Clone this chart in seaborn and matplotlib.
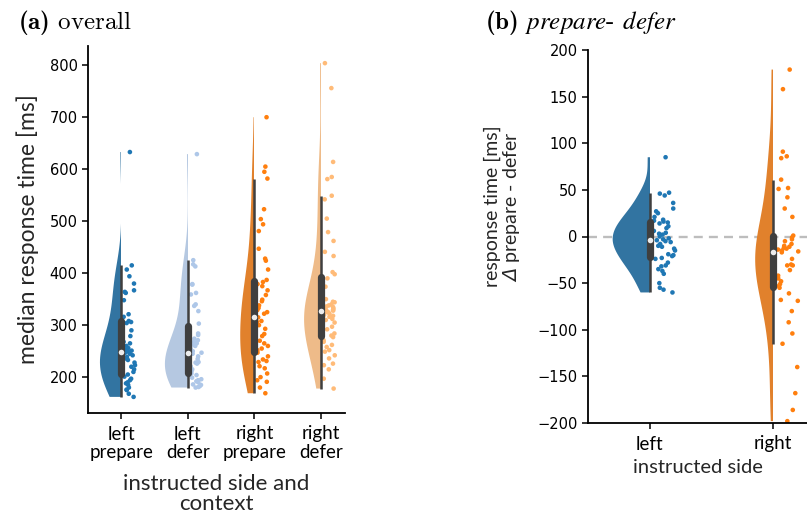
import numpy as np
import pandas as pd
import matplotlib
matplotlib.use("Agg")
import matplotlib.pyplot as plt
from matplotlib import cbook
from matplotlib.patches import Rectangle
import seaborn as sns

# ---- panel (a): median response time per instructed side and context ----
conditions = ["left\nprepare", "left\ndefer", "right\nprepare", "right\ndefer"]
left_prepare = [633, 415, 407, 394, 380, 367, 364, 362, 348, 321, 316, 308, 306, 304,
                290, 279, 268, 265, 260, 256, 253, 251, 249, 247, 245, 242, 239, 236,
                233, 228, 223, 220, 215, 210, 205, 201, 197, 194, 190, 188, 185, 180,
                176, 175, 168, 162]
left_defer = [629, 425, 417, 413, 379, 378, 362, 359, 340, 337, 327, 303, 284, 281,
              274, 271, 268, 265, 262, 260, 255, 250, 247, 245, 240, 235, 229, 228,
              226, 221, 218, 215, 213, 210, 207, 204, 199, 196, 194, 192, 190, 186,
              185, 183, 181, 180]
right_prepare = [700, 605, 595, 582, 523, 504, 494, 481, 447, 428, 424, 407, 387, 383,
                 379, 375, 367, 358, 349, 346, 338, 333, 329, 325, 322, 315, 308, 306,
                 300, 293, 283, 279, 270, 265, 260, 255, 252, 250, 247, 240, 234, 231,
                 229, 221, 217, 207, 200, 194, 191, 180, 169]
right_defer = [804, 756, 614, 585, 581, 549, 542, 505, 479, 462, 441, 433, 402, 398,
               390, 374, 350, 345, 344, 340, 338, 336, 335, 332, 331, 330, 329, 328,
               327, 326, 325, 322, 320, 318, 316, 312, 310, 305, 297, 292, 284, 280,
               277, 271, 268, 262, 258, 252, 249, 242, 236, 226, 223, 215, 197, 178]
colors_a = ["#1f77b4", "#aec7e8", "#ff7f0e", "#ffbb78"]

# ---- panel (b): prepare - defer difference per instructed side ----
sides = ["left", "right"]
diff_left = [85, 47, 46, 44, 36, 30, 27, 25, 21, 18, 17, 16, 15, 14, 11, 9, 6, 4, 3, 2,
             0, -2, -3, -4, -5, -6, -8, -10, -11, -13, -15, -19, -20, -21, -23, -24,
             -28, -31, -32, -35, -37, -40, -50, -55, -57, -60]
diff_right = [179, 158, 91, 86, 84, 61, 52, 51, 42, 30, 21,
              1, -1, -3, -5, -8, -10, -11, -12, -13, -14, -15, -16, -17, -24, -30, -31,
              -31, -36, -42, -45, -48, -51,
              -53, -55, -61, -68, -69, -80, -92, -104, -115, -140, -168, -186, -198]
colors_b = ["#1f77b4", "#ff7f0e"]

sns.set_theme(style="ticks")
plt.rcParams["font.family"] = ["DejaVu Sans"]
plt.rcParams.update({
    "mathtext.fontset": "custom",
    "mathtext.rm": "cmr10",
    "mathtext.bf": "cmb10",
    "mathtext.it": "STIXGeneral:italic",
    "mathtext.sf": "DejaVu Sans:italic",
    "axes.linewidth": 1.3,
    "axes.edgecolor": "black",
    "xtick.major.size": 4,
    "ytick.major.size": 4,
    "xtick.major.width": 1.1,
    "ytick.major.width": 1.1,
})

LABEL_FONT = "Lato"
BOX_GRAY = "#3f3f3f"

fig = plt.figure(figsize=(8.07, 5.22), dpi=100)
ax_a = fig.add_axes([88 / 807, 1 - 413 / 522, 257 / 807, 367 / 522])
ax_b = fig.add_axes([588 / 807, 1 - 423 / 522, 219 / 807, 373 / 522])


def raincloud(ax, labels, groups, colors, width):
    df = pd.DataFrame({
        "group": np.repeat(labels, [len(g) for g in groups]),
        "value": np.concatenate([np.asarray(g, float) for g in groups]),
    })
    # violins (the "cloud"), kept only on the left side of each category
    n0 = len(ax.collections)
    sns.violinplot(data=df, x="group", y="value", order=labels, hue="group",
                   hue_order=labels, palette=colors, saturation=0.75, inner=None,
                   cut=0, width=width, linewidth=0, density_norm="area",
                   common_norm=True, legend=False, ax=ax)
    for body in ax.collections[n0:]:
        verts = np.concatenate([p.vertices for p in body.get_paths()])
        pos = int(np.round(np.median(verts[:, 0])))
        body.set_edgecolor("none")
        body.set_zorder(1)
        clip = Rectangle((pos - 1, -1e5), 1, 2e5, transform=ax.transData)
        body.set_clip_path(clip)
    n1 = len(ax.collections)
    # jittered points (the "rain"), shifted to the right of each cloud
    np.random.seed(3)
    sns.stripplot(data=df, x="group", y="value", order=labels, hue="group",
                  hue_order=labels, palette=colors, jitter=0.09, size=3.3,
                  linewidth=0, legend=False, ax=ax, zorder=2)
    for coll in ax.collections[n1:]:
        off = np.asarray(coll.get_offsets()).copy()
        if len(off):
            off[:, 0] += 0.12
            coll.set_offsets(off)
    # inner box: whiskers, interquartile box and median dot
    for i, g in enumerate(groups):
        st = cbook.boxplot_stats(np.asarray(g, float))[0]
        ax.plot([i, i], [st["whislo"], st["whishi"]], color=BOX_GRAY, lw=1.8,
                solid_capstyle="butt", zorder=3)
        ax.plot([i, i], [st["q1"], st["q3"]], color=BOX_GRAY, lw=5.2,
                solid_capstyle="round", zorder=3)
        ax.scatter([i], [st["med"]], s=16, color="#ececec", linewidths=0, zorder=4)


raincloud(ax_a, conditions, [left_prepare, left_defer, right_prepare, right_defer],
          colors_a, 0.69)
ax_b.axhline(0, color="#bdbdbd", ls="--", lw=1.7, dashes=(3.8, 2.6), zorder=0.5)
raincloud(ax_b, sides, [diff_left, diff_right], colors_b, 0.6)

# axes styling
ax_a.set_ylim(131, 837)
ax_a.set_yticks([200, 300, 400, 500, 600, 700, 800])
ax_a.set_xlim(-0.5, 3.36)
ax_b.set_ylim(-200, 200)
ax_b.set_yticks(np.arange(-200, 201, 50))
ax_b.set_xlim(-0.5, 1.276)

for ax in (ax_a, ax_b):
    sns.despine(ax=ax)
    ax.tick_params(axis="y", labelsize=10.5, colors="black")
    ax.tick_params(axis="x", colors="black", pad=5)
    for lab in ax.get_xticklabels():
        lab.set_fontfamily(LABEL_FONT)
        lab.set_fontsize(13.5)
        lab.set_linespacing(1.12)

ax_a.set_xlabel("instructed side and\ncontext", fontfamily=LABEL_FONT, fontsize=16,
                color="#262626", linespacing=1.05, labelpad=9)
ax_a.set_ylabel("median response time [ms]", fontfamily=LABEL_FONT, fontsize=16.5,
                color="#262626")
ax_a.yaxis.set_label_coords(-0.19, 0.5)
ax_b.set_xlabel("instructed side", fontfamily=LABEL_FONT, fontsize=14.5,
                color="#262626", labelpad=5)
ax_b.set_ylabel("response time [ms]\n$\\mathsf{\\Delta}$ prepare - defer",
                fontfamily=LABEL_FONT, fontsize=14, color="#262626", linespacing=1.0)
ax_b.yaxis.set_label_coords(-0.3, 0.58)

# panel titles
fig.text(18 / 807, 1 - 29 / 522, r"$\mathbf{(a)}$ overall", fontfamily="cmr10",
         fontsize=18, va="baseline", ha="left", color="black")
fig.text(485 / 807, 1 - 29 / 522, r"$\mathbf{(b)}$ $\mathit{prepare}$- $\mathit{defer}$",
         fontfamily="cmr10", fontsize=18, va="baseline", ha="left", color="black")

fig.savefig("out.png", dpi=100)
